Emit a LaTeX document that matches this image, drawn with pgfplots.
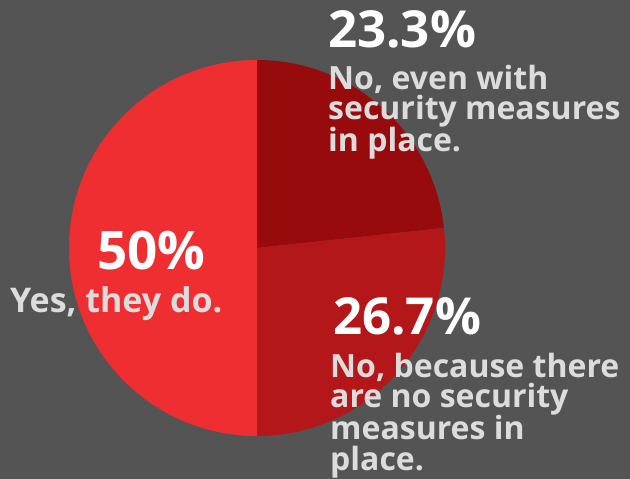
\documentclass[border=0pt]{standalone}
\usepackage{pgfplots}
\usepackage{pgfplotstable}
\pgfplotsset{compat=1.18}
\usepackage{fontspec}
\setmainfont{Open Sans}

\definecolor{bg}{HTML}{545454}
\definecolor{sliceA}{HTML}{980B0D}
\definecolor{sliceB}{HTML}{B3171A}
\definecolor{sliceC}{HTML}{EF2E32}
\definecolor{lbl}{HTML}{DCDCDC}

% share of answers, percent
\pgfplotstableread{
label value
noeven 23.3
nobecause 26.7
yes 50
}\piedata

\begin{document}
\begin{tikzpicture}
\pgfplotstablegetelem{0}{value}\of\piedata \let\va\pgfplotsretval
\pgfplotstablegetelem{1}{value}\of\piedata \let\vb\pgfplotsretval
\pgfplotstablegetelem{2}{value}\of\piedata \let\vc\pgfplotsretval
\pgfmathsetmacro\aA{90-3.6*\va}
\pgfmathsetmacro\aB{\aA-3.6*\vb}
\pgfmathsetmacro\aC{\aB-3.6*\vc}
\begin{axis}[
  hide axis, scale only axis, clip=false,
  width=630pt, height=479pt,
  xmin=0, xmax=630, ymin=0, ymax=479,
]
\fill[bg] (axis cs:0,0) rectangle (axis cs:630,479);
% pie, centre (257,231), radius 188
\fill[sliceA] (axis cs:257,231) -- ++(90:188pt) arc[start angle=90, end angle=\aA, radius=188pt] -- cycle;
\fill[sliceB] (axis cs:257,231) -- ++(\aA:188pt) arc[start angle=\aA, end angle=\aB, radius=188pt] -- cycle;
\fill[sliceC] (axis cs:257,231) -- ++(\aB:188pt) arc[start angle=\aB, end angle=\aC, radius=188pt] -- cycle;

\tikzset{pct/.style={anchor=base west, inner sep=0pt, text=white, font=\fontsize{51}{51}\selectfont\bfseries},
         txt/.style={anchor=base west, inner sep=0pt, text=lbl, font=\fontsize{32}{32}\selectfont\bfseries}}
\node[pct] at (axis cs:328,431) {23.3\%};
\node[txt] at (axis cs:328,389) {No, even with};
\node[txt] at (axis cs:328,359) {security measures};
\node[txt] at (axis cs:328,327) {in place.};

\node[pct, font=\fontsize{53}{53}\selectfont\bfseries] at (axis cs:97,209) {50\%};
\node[txt, font=\fontsize{34}{34}\selectfont\bfseries] at (axis cs:10,166) {Yes, they do.};

\node[pct] at (axis cs:333,144) {26.7\%};
\node[txt] at (axis cs:330,101) {No, because there};
\node[txt] at (axis cs:330,71) {are no security};
\node[txt] at (axis cs:330,39) {measures in};
\node[txt] at (axis cs:330,8) {place.};
\end{axis}
\end{tikzpicture}
\end{document}
